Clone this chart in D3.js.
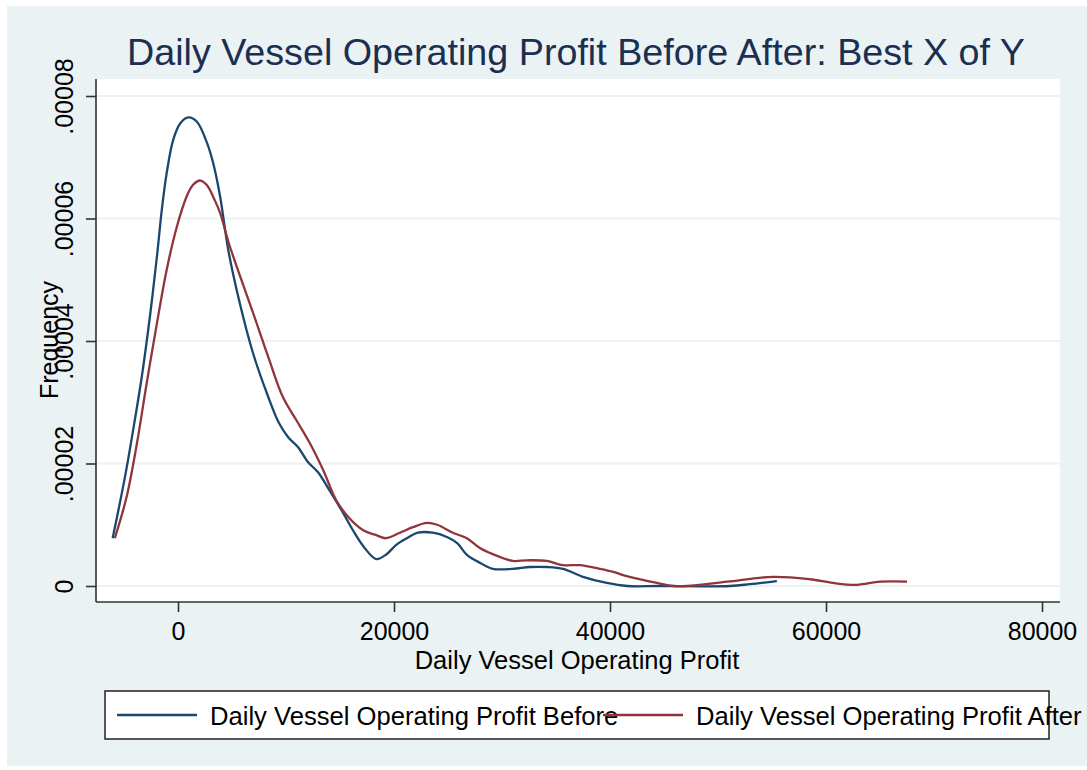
<!DOCTYPE html>
<html>
<head>
<meta charset="utf-8">
<script src="https://cdn.jsdelivr.net/npm/d3@7"></script>
<style>
body { margin:0; background:#ffffff; }
svg { display:block; font-family:"Liberation Sans", Arial, sans-serif; }
</style>
</head>
<body>
<svg id="chart"></svg>
<script>

// data
var beforeX = [-6050,-4900,-4150,-3350,-2600,-1950,-1500,-1050,-450,200,950,1750,2650,3250,3900,4650,5650,6950,8350,9350,10200,11100,12050,12950,14000,15300,16200,17200,18350,19250,20200,21200,22200,23600,24900,25850,26750,27950,29150,31000,32600,34150,35650,37500,39700,41600,44600,51100,52950,55450]
var beforeY = [0.0000078,0.0000179,0.0000255,0.0000342,0.000044,0.0000538,0.0000614,0.0000674,0.0000728,0.0000755,0.0000765,0.0000758,0.0000725,0.0000691,0.0000636,0.0000549,0.0000467,0.000038,0.0000309,0.0000266,0.0000243,0.0000227,0.0000202,0.0000186,0.0000157,0.0000119,0.0000091,0.0000064,0.0000044,0.0000051,0.0000067,0.0000078,0.0000087,0.0000087,0.000008,0.000007,0.0000051,0.0000038,0.0000028,0.0000028,0.0000031,0.0000031,0.0000028,0.0000015,0.0000005,0,0,0,0.0000003,0.0000008]

var afterX = [-5850,-4750,-3800,-2900,-1950,-1050,-100,800,1400,2050,2650,3400,3900,4700,5650,6950,8450,9700,10950,12150,13450,14650,15850,17150,18350,19250,20550,21750,23050,24000,25450,26750,27950,29150,31000,32300,34150,35650,37200,39050,40300,41550,42800,44350,45850,47150,50850,55100,58500,60650,62850,65000,67500]
var afterY = [0.0000078,0.0000146,0.0000233,0.0000331,0.0000429,0.0000516,0.0000587,0.0000636,0.0000655,0.0000662,0.0000655,0.000063,0.0000609,0.000056,0.0000511,0.0000446,0.0000369,0.0000309,0.0000271,0.0000235,0.0000189,0.000014,0.0000111,0.0000091,0.0000083,0.0000078,0.0000087,0.0000096,0.0000103,0.00001,0.0000087,0.0000078,0.0000062,0.0000052,0.0000041,0.0000042,0.0000041,0.0000034,0.0000034,0.0000028,0.0000023,0.0000016,0.0000011,0.0000005,0,0,0.0000007,0.0000015,0.0000011,0.0000005,0.0000002,0.0000007,0.0000007]

var xTicks = [0,20000,40000,60000,80000]
var xTickLabels = ["0","20000","40000","60000","80000"]
var yTicks = [0,0.00002,0.00004,0.00006,0.00008]
var yTickLabels = ["0",".00002",".00004",".00006",".00008"]

var seriesNames = ["Daily Vessel Operating Profit Before","Daily Vessel Operating Profit After"]
var seriesColors = ["#1a476f","#90353b"]

var screen = {width:1087,height:770}
var plot = {left:96,right:1060,top:79,bottom:602}

var svg = d3.select("#chart")
            .attr("width",screen.width)
            .attr("height",screen.height)

// outer grey region
svg.append("rect")
   .attr("x",7).attr("y",6)
   .attr("width",screen.width-7).attr("height",760)
   .attr("fill","#eaf2f3")

svg.append("rect")
   .attr("x",plot.left).attr("y",plot.top)
   .attr("width",plot.right-plot.left).attr("height",plot.bottom-plot.top)
   .attr("fill","#ffffff")

var xScale = d3.scaleLinear()
               .domain([0,80000])
               .range([178,1042])
var yScale = d3.scaleLinear()
               .domain([0,0.00008])
               .range([586,96])

// grid lines
svg.append("g")
   .selectAll("line")
   .data(yTicks)
   .enter()
   .append("line")
   .attr("x1",plot.left)
   .attr("x2",plot.right)
   .attr("y1",function(d){return yScale(d)})
   .attr("y2",function(d){return yScale(d)})
   .attr("stroke","#eaf2f3")
   .attr("stroke-width",2)

var xAxis = d3.axisBottom(xScale)
              .tickValues(xTicks)
              .tickFormat(function(d,i){return xTickLabels[i]})
              .tickSize(10)
              .tickSizeOuter(0)
var yAxis = d3.axisLeft(yScale)
              .tickValues(yTicks)
              .tickFormat(function(d,i){return yTickLabels[i]})
              .tickSize(10)
              .tickSizeOuter(0)

var gx = svg.append("g")
            .attr("transform","translate(0,"+plot.bottom+")")
            .call(xAxis)
gx.select(".domain").attr("d","M"+plot.left+",0H"+plot.right)
gx.selectAll("text")
  .attr("font-size",25)
  .attr("font-family","Liberation Sans, Arial, sans-serif")
  .attr("fill","#000")
  .attr("dy",null)
  .attr("y",38)

var gy = svg.append("g")
            .attr("transform","translate("+plot.left+",0)")
            .call(yAxis)
gy.select(".domain").attr("d","M0,"+plot.top+"V"+plot.bottom)
gy.selectAll("text")
  .attr("font-size",25)
  .attr("font-family","Liberation Sans, Arial, sans-serif")
  .attr("fill","#000")
  .attr("text-anchor","middle")
  .attr("dy",null)
  .attr("x",null)
  .attr("transform","translate(-23,0) rotate(-90)")

svg.selectAll(".domain, .tick line")
   .attr("stroke","#333333")
   .attr("stroke-width",1.6)

// density curves
var lineGenerator = d3.line()
                      .x(function(d){return xScale(d[0])})
                      .y(function(d){return yScale(d[1])})
                      .curve(d3.curveCatmullRom.alpha(0.5))

var allSeries = [d3.zip(beforeX,beforeY), d3.zip(afterX,afterY)]

svg.append("g")
   .selectAll("path")
   .data(allSeries)
   .enter()
   .append("path")
   .attr("d",lineGenerator)
   .attr("fill","none")
   .attr("stroke",function(d,i){return seriesColors[i]})
   .attr("stroke-width",2.3)

// titles
svg.append("text")
   .attr("x",576)
   .attr("y",65)
   .attr("text-anchor","middle")
   .attr("font-size",37.7)
   .attr("fill","#1b2f52")
   .text("Daily Vessel Operating Profit Before After: Best X of Y")

svg.append("text")
   .attr("x",577)
   .attr("y",669)
   .attr("text-anchor","middle")
   .attr("font-size",25.5)
   .attr("fill","#000")
   .text("Daily Vessel Operating Profit")

svg.append("text")
   .attr("transform","translate(58,340) rotate(-90)")
   .attr("text-anchor","middle")
   .attr("font-size",25)
   .attr("fill","#000")
   .text("Frequency")

// legend
svg.append("rect")
   .attr("x",105).attr("y",691)
   .attr("width",944).attr("height",48)
   .attr("fill","#ffffff")
   .attr("stroke","#222222")
   .attr("stroke-width",1.5)

var legendX = [117,603]
var legend = svg.append("g")
                .selectAll("g")
                .data(seriesNames)
                .enter()
                .append("g")

legend.append("text")
      .attr("x",function(d,i){return legendX[i]+93})
      .attr("y",725)
      .attr("font-size",25.6)
      .attr("fill","#000")
      .text(function(d){return d})

legend.append("line")
      .attr("x1",function(d,i){return legendX[i]})
      .attr("x2",function(d,i){return legendX[i]+80})
      .attr("y1",715)
      .attr("y2",715)
      .attr("stroke",function(d,i){return seriesColors[i]})
      .attr("stroke-width",2.3)

</script>
</body>
</html>
